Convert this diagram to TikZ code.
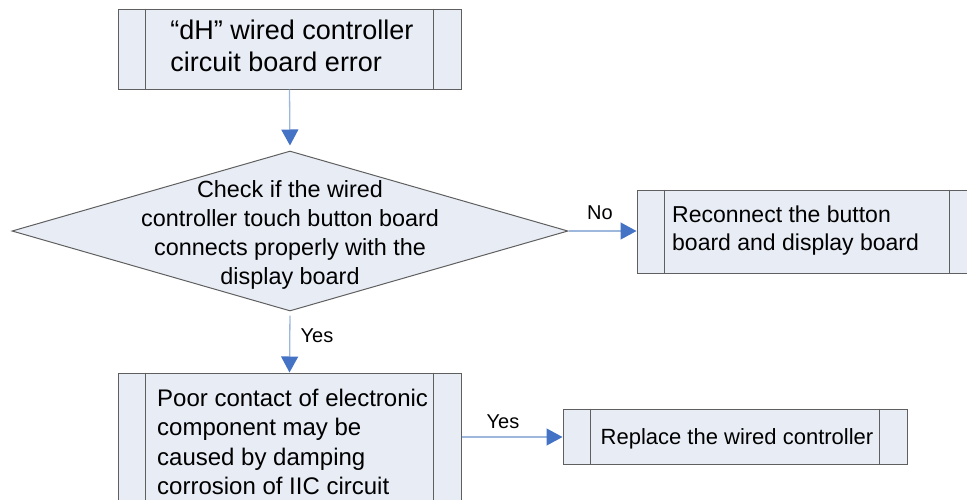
\documentclass[tikz,border=0pt]{standalone}
\usepackage{fontspec}
\setmainfont{Liberation Sans}
\usetikzlibrary{arrows.meta,shapes.geometric}
\definecolor{boxfill}{HTML}{E8ECF5}
\definecolor{boxline}{HTML}{5F5F5F}
\definecolor{linkline}{HTML}{9DB7DD}
\definecolor{tipblue}{HTML}{4472C4}
\tikzset{
  procbox/.style={draw=boxline, fill=boxfill, line width=1pt, rectangle, inner sep=0pt},
  sideline/.style={draw=boxline, line width=1pt},
  decision/.style={draw=boxline, fill=boxfill, line width=1pt, diamond, inner sep=0pt,
    minimum width=556pt, minimum height=160pt},
  link/.style={draw=linkline, line width=1.3pt, -{Triangle[length=16pt,width=17pt,color=tipblue]}},
  lbl/.style={font=\fontsize{20pt}{24pt}\selectfont, inner sep=0pt},
  txt/.style={inner sep=0pt, align=left},
}
\newcommand\procsides[1]{%
  \draw[sideline] ([xshift=28pt]#1.north west) -- ([xshift=28pt]#1.south west)
                  ([xshift=-28pt]#1.north east) -- ([xshift=-28pt]#1.south east);}
\begin{document}
\begin{tikzpicture}[x=1pt,y=-1pt]
\useasboundingbox (0,0) rectangle (967,499);
\clip (0,0) rectangle (967,499);
% boxes
\node[procbox, minimum width=343pt, minimum height=80pt] (b1) at (289.5,49) {};
\procsides{b1}
\node[decision] (d1) at (290,231) {};
\node[procbox, minimum width=340pt, minimum height=83pt] (b2) at (807,231.5) {};
\procsides{b2}
\node[procbox, minimum width=343pt, minimum height=128pt] (b3) at (289.5,437) {};
\procsides{b3}
\node[procbox, minimum width=344pt, minimum height=55pt] (b4) at (735,436.5) {};
\procsides{b4}
% texts
\node[txt, font=\fontsize{27pt}{32pt}\selectfont] (t1) at (292,46) {“dH” wired controller\\circuit board error};
\node[txt, align=center, font=\fontsize{23.4pt}{29pt}\selectfont] (t2) at (290,235) {Check if the wired\\controller touch button board\\connects properly with the\\display board};
\node[txt, anchor=west, font=\fontsize{23pt}{28pt}\selectfont] (t3) at (672,231) {Reconnect the button\\board and display board};
\node[txt, anchor=west, font=\fontsize{24pt}{29.5pt}\selectfont] (t4) at (157,442) {Poor contact of electronic\\component may be\\caused by damping\\corrosion of IIC circuit};
\node[txt, font=\fontsize{22pt}{26pt}\selectfont] (t5) at (737,439) {Replace the wired controller};
% connectors
\draw[link, shorten >=5pt] (b1.south) -- (d1.north);
\draw[link] (d1.east) -- (d1.east -| b2.west);
\draw[link, shorten <=4pt] (d1.south) -- (b3.north);
\draw[link] (b3.east) -- (b3.east -| b4.west);
% labels
\node[lbl] (lno) at (600,213) {No};
\node[lbl] (lyes1) at (317,336) {Yes};
\node[lbl] (lyes2) at (503,422) {Yes};
\end{tikzpicture}
\end{document}
